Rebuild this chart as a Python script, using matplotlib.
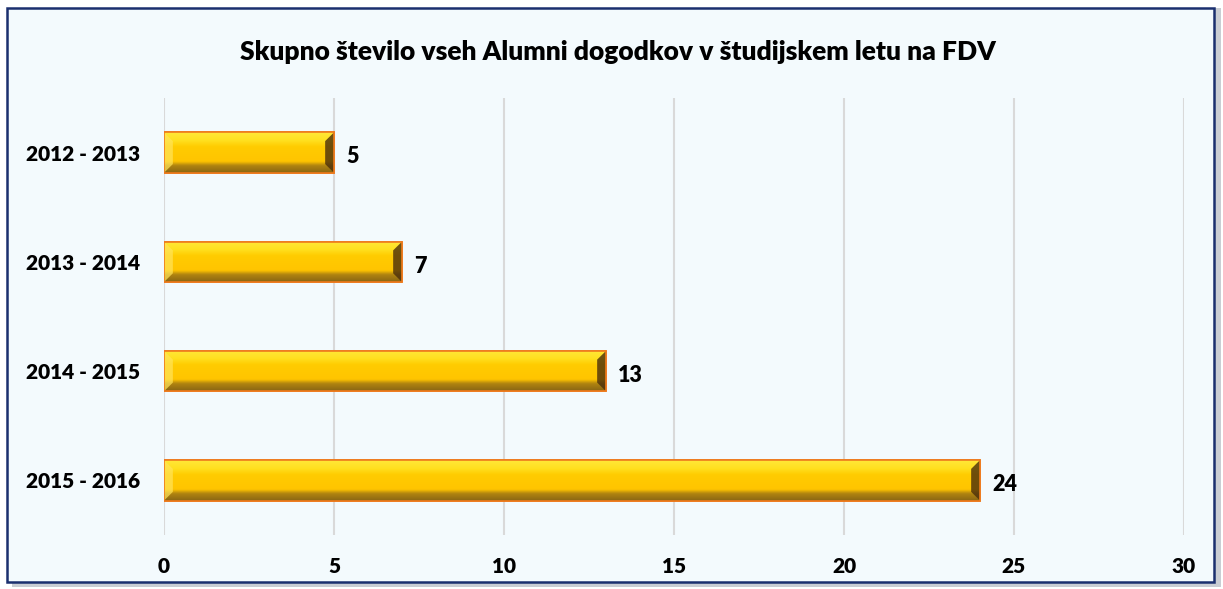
import numpy as np
import matplotlib.pyplot as plt
from matplotlib.patches import Rectangle, Polygon
from matplotlib.colors import LinearSegmentedColormap

# podatki
years = ['2012 - 2013', '2013 - 2014', '2014 - 2015', '2015 - 2016']
events = [5, 7, 13, 24]
x_ticks = [0, 5, 10, 15, 20, 25, 30]
title = 'Skupno število vseh Alumni dogodkov v študijskem letu na FDV'

plt.rcParams['font.family'] = ['Lato', 'DejaVu Sans']
plt.rcParams['font.weight'] = 'heavy'

fig = plt.figure(figsize=(12.23, 5.89), dpi=100)
fig.patch.set_facecolor('white')

# okvir grafikona s senco
fig.patches.append(Rectangle((0.0095, 0.004), 0.989, 0.982, transform=fig.transFigure,
                             facecolor='#C9CDD3', edgecolor='none', zorder=-2))
fig.patches.append(Rectangle((0.006, 0.012), 0.987, 0.975, transform=fig.transFigure,
                             facecolor='#F3FAFD', edgecolor='#1A2F6E', linewidth=1.8, zorder=-1))

ax = fig.add_axes([0.1341, 0.0917, 0.834, 0.742])
ax.set_facecolor('none')

ypos = np.arange(len(years))
bar_h = 0.37
bars = ax.barh(ypos, events, height=bar_h, color='#FFC808', edgecolor='#EE7A1C',
               linewidth=1.2, zorder=3)

ax.set_xlim(0, 30)
ax.set_ylim(len(years) - 0.5, -0.5)

# bevel efekt
grad = np.linspace(0, 1, 100).reshape(-1, 1)
cmap = LinearSegmentedColormap.from_list('bev', [(0, '#FFE838'), (0.2, '#FFE020'),
                                                  (0.35, '#FFCC00'), (0.72, '#FFC400'),
                                                  (0.82, '#B08410'), (1, '#8A6614')])
bx = 0.26
by = 0.08
for b in bars:
    x0, y0 = b.get_x(), b.get_y()
    w, h = b.get_width(), b.get_height()
    im = ax.imshow(grad, cmap=cmap, aspect='auto', extent=(x0, x0 + w, y0 + h, y0),
                   zorder=3.5, interpolation='bicubic')
    im.set_clip_path(b)
    # desni konec (temen)
    ax.add_patch(Polygon([(x0 + w, y0), (x0 + w, y0 + h), (x0 + w - bx, y0 + h - by),
                          (x0 + w - bx, y0 + by)], closed=True, facecolor='#4A2E0C',
                         alpha=0.8, edgecolor='none', zorder=3.6))
    # levi konec (svetel)
    ax.add_patch(Polygon([(x0, y0), (x0, y0 + h), (x0 + bx, y0 + h - by),
                          (x0 + bx, y0 + by)], closed=True, facecolor='#FFE45A',
                         alpha=0.7, edgecolor='none', zorder=3.6))
    ax.add_patch(Rectangle((x0, y0), w, h, facecolor='none', edgecolor='#EE7A1C',
                           linewidth=1.2, zorder=3.8))
    ax.text(x0 + w + 0.35, y0 + h / 2 + 0.04, str(int(w)), va='center', ha='left',
            fontsize=15.5, fontweight='heavy', color='black', zorder=4)

ax.set_xticks(x_ticks)
ax.set_yticks(ypos)
ax.set_yticklabels(years)
ax.grid(axis='x', color='#D9D9D9', linewidth=1.5, zorder=0)
ax.set_axisbelow(True)
for s in ax.spines.values():
    s.set_visible(False)
ax.tick_params(axis='both', length=0, labelsize=15)
ax.tick_params(axis='x', pad=16)
ax.tick_params(axis='y', pad=17)
for lbl in ax.get_xticklabels() + ax.get_yticklabels():
    lbl.set_fontweight('heavy')

fig.text(0.505, 0.912, title, ha='center', va='center', fontsize=19, fontweight='heavy')

fig.savefig('out.png', dpi=100)
